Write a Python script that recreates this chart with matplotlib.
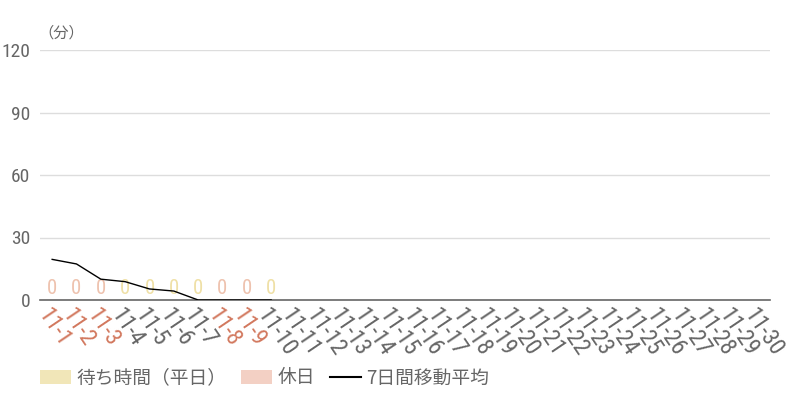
import matplotlib
matplotlib.use("Agg")
import matplotlib.pyplot as plt
from matplotlib.patches import Patch
from matplotlib.lines import Line2D

NUMFONT = ['Roboto Condensed', 'Roboto', 'DejaVu Sans']
plt.rcParams['font.family'] = NUMFONT

days = [f"11-{d}" for d in range(1, 31)]
holiday = [True, True, True, False, False, False, False, True, True, False] + [False] * 20
wait_vals = [0, 0, 0, 0, 0, 0, 0, 0, 0, 0]  # data for 11-1 .. 11-10
moving_avg = [19.5, 17.3, 10.0, 8.8, 5.3, 4.3, 0.0, 0.0, 0.0, 0.0]
yticks = [0, 30, 60, 90, 120]

C_WEEK = '#f1e6b8'
C_HOL = '#f3d0c4'
C_WEEK_LBL = '#efe0a6'
C_HOL_LBL = '#eec2ae'
C_RED = '#d2785e'
C_TXT = '#666666'

fig = plt.figure(figsize=(8, 4), dpi=100)
ax = fig.add_axes([40/800, 0.25, 730/800, 0.625])

x = list(range(len(days)))
n = len(wait_vals)
cols = [C_HOL if holiday[i] else C_WEEK for i in range(n)]
ax.bar(x[:n], wait_vals, width=0.8, color=cols, edgecolor=cols, linewidth=0.8, zorder=2)
for i in range(n):
    ax.text(x[i], wait_vals[i] + 1, str(wait_vals[i]), ha='center', va='bottom',
            fontsize=15, color=C_HOL_LBL if holiday[i] else C_WEEK_LBL, zorder=3)

ax.plot(x[:len(moving_avg)], moving_avg, color='black', lw=1, zorder=4)

ax.set_xlim(-0.5, len(days) - 0.5)
ax.set_ylim(0, 120)
ax.set_yticks(yticks)
ax.set_yticklabels([str(v) for v in yticks], fontsize=14, color=C_TXT)
ax.grid(axis='y', color='#dddddd', lw=1, zorder=0)
ax.set_axisbelow(True)
for s in ['top', 'right', 'left']:
    ax.spines[s].set_visible(False)
ax.spines['bottom'].set_color('#666666')
ax.spines['bottom'].set_linewidth(1.2)
ax.tick_params(axis='y', length=0, pad=7)
ax.tick_params(axis='x', length=0, pad=3)

ax.set_xticks(x)
ax.set_xticklabels(days, rotation=-56, ha='left', va='top',
                   rotation_mode='anchor', fontsize=17)
for i, lbl in enumerate(ax.get_xticklabels()):
    lbl.set_color(C_RED if holiday[i] else C_TXT)

fig.text(38/800, 1 - 33/400, '（分）', fontsize=11, color=C_TXT, ha='left', va='center',
         family=['Noto Sans CJK JP', 'DejaVu Sans'])

handles = [Patch(facecolor=C_WEEK, edgecolor='none'),
           Patch(facecolor=C_HOL, edgecolor='none'),
           Line2D([0], [0], color='black', lw=1.5)]
labels = ['待ち時間（平日）', '休日', '7日間移動平均']
leg = fig.legend(handles, labels, loc='center left', bbox_to_anchor=(40/800, 1 - 378/400), ncol=3,
                 frameon=False, prop={'family': ['Noto Sans CJK JP', 'DejaVu Sans'], 'size': 13.5},
                 handlelength=1.65, handleheight=0.85, columnspacing=0.78, handletextpad=0.3,
                 borderpad=0, borderaxespad=0)
for t in leg.get_texts():
    t.set_color(C_TXT)

fig.savefig('out.png', dpi=100)
